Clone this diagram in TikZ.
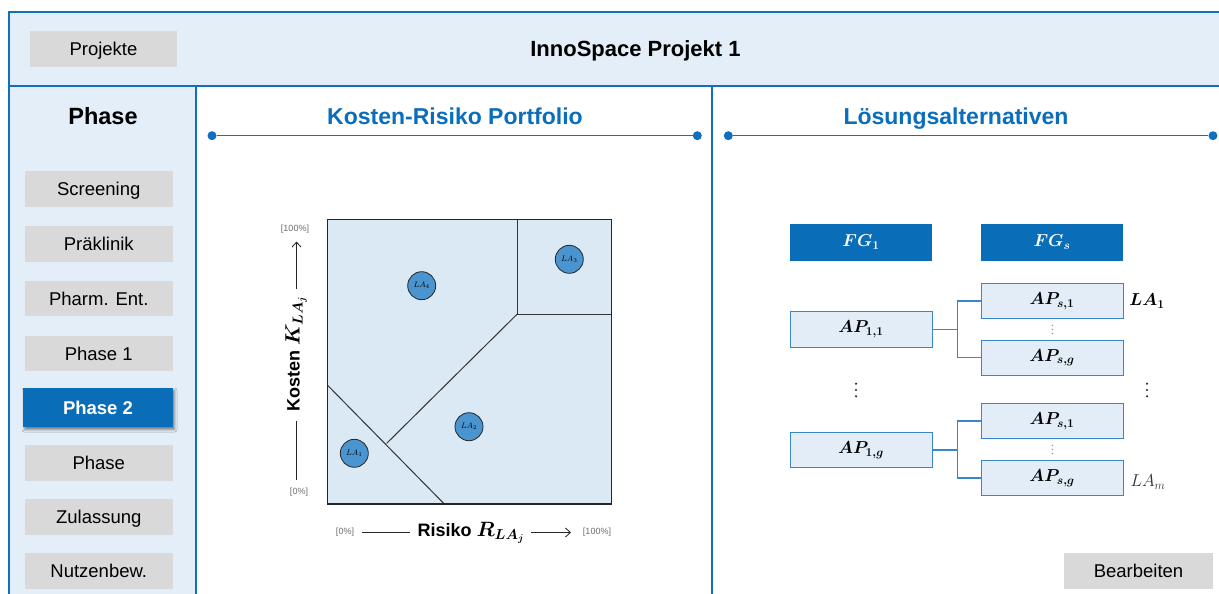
\documentclass[tikz,border=0pt]{standalone}
\usepackage{amsmath}
\usepackage{bm}
\usepackage{fontspec}
\setmainfont{Liberation Sans}
\usetikzlibrary{arrows.meta,shadows.blur}

\definecolor{frameblue}{HTML}{1070C0}
\definecolor{panelfill}{HTML}{E4EEF8}
\definecolor{btngray}{HTML}{D9D9D9}
\definecolor{headblue}{HTML}{0A6EBD}
\definecolor{fgblue}{HTML}{0A6DB8}
\definecolor{apfill}{HTML}{E2EDF7}
\definecolor{apborder}{HTML}{3A86C8}
\definecolor{plotfill}{HTML}{DBE9F4}
\definecolor{lafill}{HTML}{4A94CF}
\definecolor{axisgray}{HTML}{6E6E6E}

\newcommand{\fs}[1]{\fontsize{#1}{#1}\selectfont}

\begin{document}
\begin{tikzpicture}[x=1pt,y=-1pt,
  graybtn/.style={fill=btngray, minimum width=147.5, minimum height=35.5, inner sep=0,
    font=\fs{18.5}, text height=13.3pt, text depth=0pt},
  activebtn/.style={fill=fgblue, minimum width=150, minimum height=39, inner sep=0,
    text=white, font=\fs{18.5}\bfseries, text height=13.3pt, text depth=0pt,
    blur shadow={shadow xshift=1.5pt, shadow yshift=-2.5pt, shadow blur radius=2.5pt, shadow opacity=50}},
  heading/.style={text=headblue, font=\fs{23}\bfseries, inner sep=0, text height=16.5pt, text depth=0pt},
  headline/.style={draw=frameblue, line width=1.2pt},
  headdot/.style={circle, fill=frameblue, inner sep=0, minimum size=9},
  fgbox/.style={fill=fgblue, minimum width=142, minimum height=36.5, inner sep=0, text=white, font=\fs{16.5}},
  apbox/.style={draw=apborder, line width=1pt, fill=apfill, minimum width=142, minimum height=35.5, inner sep=0, font=\fs{17.5}},
  fork/.style={draw=apborder, line width=1.2pt},
  lacircle/.style={circle, draw=black!85, line width=0.8pt, fill=lafill, minimum size=28, inner sep=0, font=\fs{8}},
  region/.style={draw=black!80, line width=1pt},
  axislabel/.style={text=axisgray, font=\fs{9}, inner sep=1},
  axisarrow/.style={draw=black!85, line width=0.8pt},
  axistitle/.style={font=\fs{18}\bfseries, inner sep=0}]

\useasboundingbox (0,0) rectangle (1219,594);
\fill[white] (0,0) rectangle (1219,594);

% frame: top bar, sidebar and the two content panels
\begin{scope}
  \clip (0,0) rectangle (1219,594);
  \fill[panelfill] (9,12) rectangle (1240,86);
  \fill[panelfill] (9,86) rectangle (196,610);
  \draw[frameblue, line width=1.2pt] (9,610) -- (9,12) -- (1240,12);
  \draw[frameblue, line width=1.2pt] (9,86) -- (1240,86);
  \draw[frameblue, line width=1.2pt] (196,86) -- (196,610);
  \draw[frameblue, line width=1.2pt] (712,86) -- (712,610);
\end{scope}

% top bar
\node[graybtn, minimum width=147] (projekte) at (103.5,49) {Projekte};
\node[font=\fs{22}\bfseries, inner sep=0, text height=15.8pt, text depth=0pt] (title) at (635.5,49) {InnoSpace Projekt 1};

% phase navigation
\node[font=\fs{23.5}\bfseries, inner sep=0, text height=16.8pt, text depth=0pt] (phasehead) at (103,116) {Phase};
\node[graybtn] (screening) at (98.75,189) {Screening};
\node[graybtn] (praeklinik) at (98.75,244) {Präklinik};
\node[graybtn] (pharment) at (98.75,298.5) {Pharm. Ent.};
\node[graybtn] (phase1) at (98.75,353.5) {Phase 1};
\node[activebtn] (phase2) at (98,407.5) {Phase 2};
\node[graybtn] (phase) at (98.75,463) {Phase};
\node[graybtn] (zulassung) at (98.75,517) {Zulassung};
\node[graybtn] (nutzen) at (98.75,571) {Nutzenbew.};

% panel headings
\node[heading] (kr) at (455,116) {Kosten-Risiko Portfolio};
\node[headdot] (krl) at (212,135.7) {};
\node[headdot] (krr) at (697.3,135.7) {};
\draw[headline] (krl) -- (krr);

\node[heading] (la) at (956,116) {Lösungsalternativen};
\node[headdot] (lal) at (728.3,135.7) {};
\node[headdot] (lar) at (1213,135.7) {};
\draw[headline] (lal) -- (lar);

% cost-risk portfolio
\fill[plotfill] (327.3,219.3) rectangle (611.7,504);
\coordinate (corner) at (517.3,314);
\draw[region] (517.3,219.3) -- (corner) -- (611.7,314);
\draw[region] (corner) -- (386.7,443.3);
\draw[region] (327.3,385) -- (444.3,504);
\draw[black!85, line width=1.2pt] (327.3,219.3) rectangle (611.7,504);

\node[lacircle] (la1) at (354.3,453.3) {$LA_1$};
\node[lacircle] (la2) at (469,426.7) {$LA_2$};
\node[lacircle] (la3) at (569.3,259.3) {$LA_3$};
\node[lacircle] (la4) at (421.7,285.7) {$LA_4$};

% vertical axis
\node[axislabel] (ytop) at (295,229.5) {[100\%]};
\node[axislabel] (ybot) at (299,492) {[0\%]};
\node[axistitle, rotate=90] (ytitle) at (296,354) {Kosten {\fs{20.5}$\bm{K_{LA_j}}$}};
\coordinate (yup1) at (296.5,289);
\coordinate (yup2) at (296.5,241.5);
\coordinate (ydn1) at (296.5,421);
\coordinate (ydn2) at (296.5,480);
\draw[axisarrow, -{Straight Barb[length=5pt,width=9pt]}] (yup1) -- (yup2);
\draw[axisarrow] (ydn1) -- (ydn2);

% horizontal axis
\node[axislabel] (xleft) at (345,532.5) {[0\%]};
\node[axislabel] (xright) at (597,532.5) {[100\%]};
\node[axistitle] (xtitle) at (471,533) {Risiko {\fs{19.5}$\bm{R_{LA_j}}$}};
\coordinate (xl1) at (362,532.5);
\coordinate (xl2) at (410,532.5);
\coordinate (xr1) at (531,532.5);
\coordinate (xr2) at (571,532.5);
\draw[axisarrow] (xl1) -- (xl2);
\draw[axisarrow, -{Straight Barb[length=5pt,width=9pt]}] (xr1) -- (xr2);

% solution alternatives
\node[fgbox] (fg1) at (861,242.3) {$\bm{FG_1}$};
\node[fgbox] (fgs) at (1052,242.3) {$\bm{FG_s}$};

\node[apbox] (ap11) at (861,329.5) {$\bm{AP_{1,1}}$};
\node[apbox] (ap1g) at (861,450) {$\bm{AP_{1,g}}$};
\node[apbox] (aps1a) at (1052,301) {$\bm{AP_{s,1}}$};
\node[apbox] (apsga) at (1052,357.8) {$\bm{AP_{s,g}}$};
\node[apbox] (aps1b) at (1052,421) {$\bm{AP_{s,1}}$};
\node[apbox] (apsgb) at (1052,478) {$\bm{AP_{s,g}}$};

\draw[fork] (ap11.east) -- ++(25,0) coordinate (forka);
\draw[fork] (forka) |- (aps1a.west);
\draw[fork] (forka) |- (apsga.west);
\draw[fork] (ap1g.east) -- ++(25,0) coordinate (forkb);
\draw[fork] (forkb) |- (aps1b.west);
\draw[fork] (forkb) |- (apsgb.west);

% vertical ellipses
\coordinate (vda) at (1052.5,329.5);
\coordinate (vdb) at (1052.5,449.5);
\coordinate (vdl) at (856,390);
\coordinate (vdr) at (1147,390);
\fill[black!40] (vda) ++(0,-4) circle (0.8) ++(0,4) circle (0.8) ++(0,4) circle (0.8);
\fill[black!40] (vdb) ++(0,-4) circle (0.8) ++(0,4) circle (0.8) ++(0,4) circle (0.8);
\fill[black!85] (vdl) ++(0,-6.3) circle (1.2) ++(0,6.3) circle (1.2) ++(0,6.3) circle (1.2);
\fill[black!85] (vdr) ++(0,-6.3) circle (1.2) ++(0,6.3) circle (1.2) ++(0,6.3) circle (1.2);

\node[font=\fs{17}, inner sep=0] (lafirst) at (1147,301) {$\bm{LA_1}$};
\node[font=\fs{17}, inner sep=0, text=black!80] (lalast) at (1148,482) {$LA_m$};

\node[graybtn, minimum width=149, minimum height=36] (bearbeiten) at (1138.5,571) {Bearbeiten};

\end{tikzpicture}
\end{document}
